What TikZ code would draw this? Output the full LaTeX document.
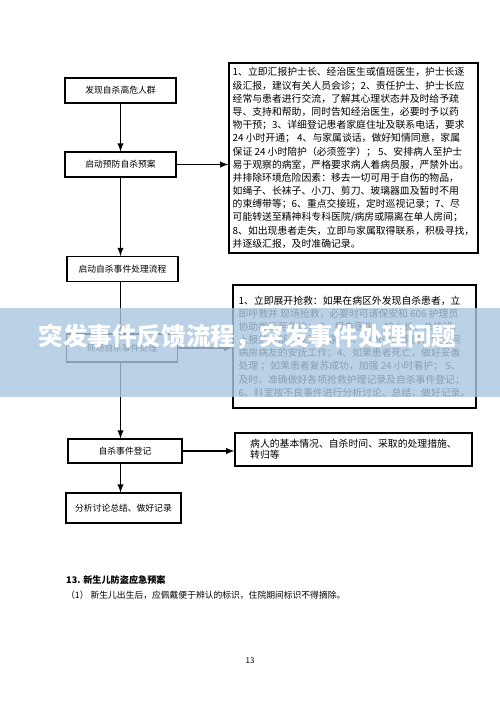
\documentclass[tikz,border=0pt]{standalone}
\usepackage{fontspec}
\setmainfont{Noto Sans CJK SC}
\definecolor{bannerblue}{RGB}{170,198,224}
\begin{document}
\begin{tikzpicture}[x=0.02cm,y=-0.02cm,
  lbox/.style={draw,line width=0.6pt,minimum width=2.22cm,minimum height=0.5cm,inner sep=1pt,font=\fontsize{5}{6}\selectfont},
  rbox/.style={draw,line width=0.8pt,align=left,inner sep=1pt,font=\fontsize{5.6}{7.5}\selectfont},
  link/.style={-latex,line width=0.6pt}]
\useasboundingbox (0,0) rectangle (500,707);
% left column
\node[lbox] (find) at (120.5,90.5) {发现自杀高危人群};
\node[lbox] (prevent) at (120.5,164.5) {启动预防自杀预案};
\node[lbox] (start) at (122.5,269) {启动自杀事件处理流程};
\node[lbox,minimum height=0.56cm] (rescue) at (122,348) {现场自杀事件处理};
\node[lbox,minimum width=2.28cm,minimum height=0.48cm] (register) at (125,451) {自杀事件登记};
\node[lbox,minimum width=2.3cm,minimum height=0.6cm] (review) at (123.5,508) {分析讨论总结、做好记录};
% right column
\node[rbox,minimum width=4.98cm,minimum height=3.8cm] (prevdetail) at (353.5,158) {1、立即汇报护士长、经治医生或值班医生，护士长逐\\
级汇报，建议有关人员会诊；2、责任护士、护士长应\\
经常与患者进行交流，了解其心理状态并及时给予疏\\
导、支持和帮助，同时告知经治医生，必要时予以药\\
物干预；3、详细登记患者家庭住址及联系电话，要求\\
24 小时开通； 4、与家属谈话，做好知情同意，家属\\
保证 24 小时陪护（必须签字）； 5、安排病人至护士\\
易于观察的病室，严格要求病人着病员服，严禁外出。\\
并排除环境危险因素：移去一切可用于自伤的物品，\\
如绳子、长袜子、小刀、剪刀、玻璃器皿及暂时不用\\
的束缚带等；6、重点交接班，定时巡视记录；7、尽\\
可能转送至精神科专科医院/病房或隔离在单人房间；\\
8、如出现患者走失，立即与家属取得联系，积极寻找，\\
并逐级汇报，及时准确记录。};
\node[rbox,minimum width=4.86cm,minimum height=2.46cm] (rescuedetail) at (354.5,346.5) {1、立即展开抢救：如果在病区外发现自杀患者，立\\
即呼救并 现场抢救，必要时可请保安和 606 护理员\\
协助搬运至急诊； 2、报告医生、护士长、总值班、\\
上报护理部、保卫科等；3、及时通知家属，做好同\\
病房病友的安抚工作；4、如果患者死亡，做好妥善\\
处理 ；如果患者复苏成功，加强 24 小时看护； 5、\\
及时、准确做好各项抢救护理记录及自杀事件登记；\\
6、科室按不良事件进行分析讨论、总结，做好记录。};
\node[rbox,minimum width=4.74cm,minimum height=0.66cm,font=\fontsize{5.6}{6.4}\selectfont] (regdetail) at (353.5,449.5) {病人的基本情况、自杀时间、采取的处理措施、\\
转归等};
% arrows
\draw[link] (find) -- (prevent);
\draw[link] (prevent.south) -- (prevent.south |- start.north);
\draw[link] (prevent.south |- start.south) -- (prevent.south |- rescue.north);
\draw[link] (prevent.south |- rescue.south) -- (prevent.south |- register.north);
\draw[link] (prevent.south |- register.south) -- (prevent.south |- review.north);
\draw[link] (prevent) -- (prevent -| prevdetail.west);
\draw[link] (rescue) -- (rescue -| rescuedetail.west);
\draw[link] (register) -- (register -| regdetail.west);
% page text
\node[anchor=west,font=\fontsize{5.2}{6}\selectfont\bfseries] (plantitle) at (60,580) {13. 新生儿防盗应急预案};
\node[anchor=west,font=\fontsize{5}{6}\selectfont] (planitem) at (60,595) {（1） 新生儿出生后，应佩戴便于辨认的标识，住院期间标识不得摘除。};
\node[font=\fontsize{4.5}{5}\selectfont] (pagenum) at (250,661) {13};
% banner
\fill[bannerblue,fill opacity=0.8] (0,308) rectangle (500,397);
\node[font=\fontsize{14}{16}\selectfont\bfseries,text=white] (headline) at (247.5,337) {突发事件反馈流程，突发事件处理问题};
\end{tikzpicture}
\end{document}
